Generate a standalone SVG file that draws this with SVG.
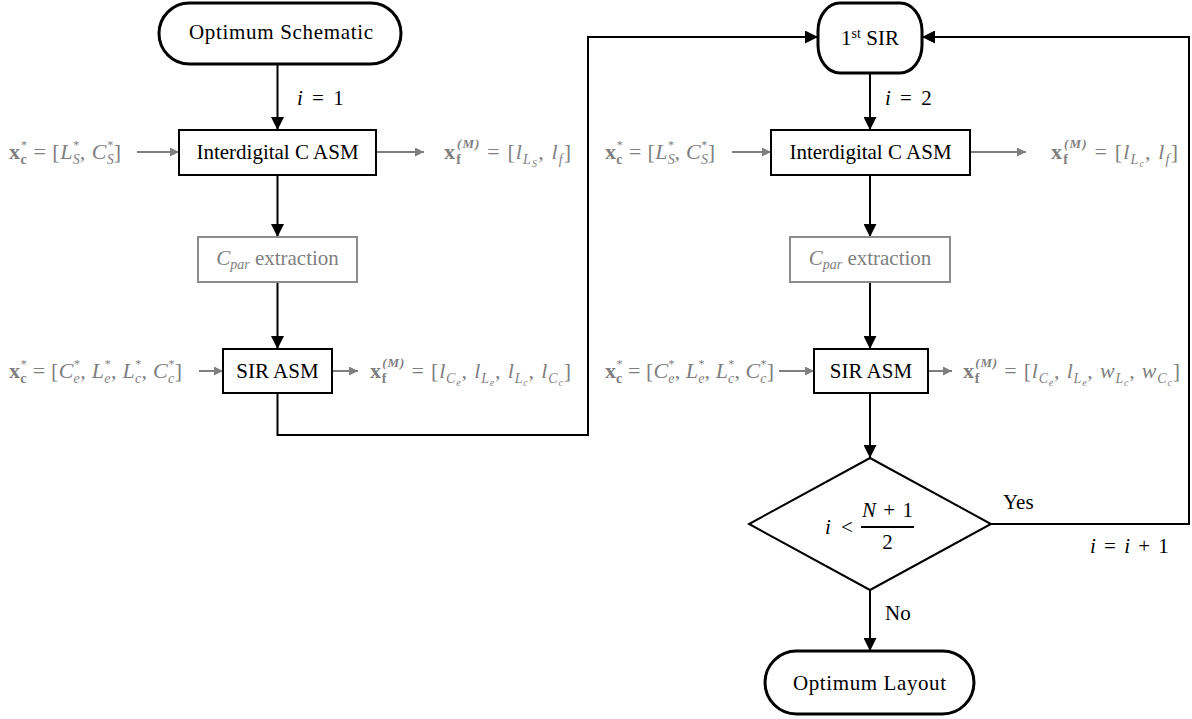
<svg xmlns="http://www.w3.org/2000/svg" width="1192" height="719" viewBox="0 0 1192 719">
  <style>
    text { font-family: "Liberation Serif", "Times New Roman", serif; font-size: 21px; fill: #000; }
    .lbl { text-anchor: middle; }
    .eq { word-spacing: 4px; }
    .g { fill: #7f7f7f; font-size: 22px; }
    .it { font-style: italic; }
    .bd { font-weight: bold; }
    .sm { font-size: 14px; }
    .st { font-size: 12px; }
    .sp { font-size: 13px; }
    .xs { font-size: 10px; }
    .term { fill: #fff; stroke: #000; stroke-width: 3; }
    .box { fill: #fff; stroke: #000; stroke-width: 2; }
    .gbox { fill: #fff; stroke: #8c8c8c; stroke-width: 2; }
    .wire { fill: none; stroke: #000; stroke-width: 2; }
    .gwire { fill: none; stroke: #7f7f7f; stroke-width: 2; }
  </style>
  <defs>
    <marker id="ah" viewBox="0 0 10 10" refX="10" refY="5" markerWidth="13" markerHeight="13" markerUnits="userSpaceOnUse" orient="auto">
      <path d="M0,0 L10,5 L0,10 z" fill="#000"/>
    </marker>
    <marker id="gah" viewBox="0 0 10 10" refX="10" refY="5" markerWidth="9" markerHeight="9" markerUnits="userSpaceOnUse" orient="auto">
      <path d="M0,0 L10,5 L0,10 z" fill="#7f7f7f"/>
    </marker>
  </defs>

  <!-- connectors -->
  <g id="connectors">
    <path class="wire" d="M277.5,64 V130" marker-end="url(#ah)"/>
    <path class="wire" d="M277.5,175 V237" marker-end="url(#ah)"/>
    <path class="wire" d="M277.5,282 V349" marker-end="url(#ah)"/>
    <path class="wire" d="M277.5,393 V435 H588 V37 H818" marker-end="url(#ah)"/>
    <path class="wire" d="M870,73 V130" marker-end="url(#ah)"/>
    <path class="wire" d="M870,175 V237" marker-end="url(#ah)"/>
    <path class="wire" d="M870,282 V349" marker-end="url(#ah)"/>
    <path class="wire" d="M870,393 V458" marker-end="url(#ah)"/>
    <path class="wire" d="M870,590 V651" marker-end="url(#ah)"/>
    <path class="wire" d="M991,524 H1189 V37 H922" marker-end="url(#ah)"/>
    <!-- side inputs / outputs -->
    <path class="gwire" d="M137,152 H179" marker-end="url(#gah)"/>
    <path class="gwire" d="M376,152 H424" marker-end="url(#gah)"/>
    <path class="gwire" d="M199,371 H223" marker-end="url(#gah)"/>
    <path class="gwire" d="M332,371 H358" marker-end="url(#gah)"/>
    <path class="gwire" d="M732,152 H771" marker-end="url(#gah)"/>
    <path class="gwire" d="M970,152 H1026" marker-end="url(#gah)"/>
    <path class="gwire" d="M779,371 H814" marker-end="url(#gah)"/>
    <path class="gwire" d="M928,371 H952" marker-end="url(#gah)"/>
    <!-- edge labels -->
    <text class="eq" x="297" y="105"><tspan class="it">i</tspan> = 1</text>
    <text class="eq" x="885" y="105"><tspan class="it">i</tspan> = 2</text>
    <text x="1003" y="509">Yes</text>
    <text x="885" y="620">No</text>
    <text x="1090" y="553" style="word-spacing:3px"><tspan class="it">i</tspan> = <tspan class="it">i</tspan> + 1</text>
  </g>

  <!-- left column -->
  <g id="start">
    <rect class="term" x="159" y="3" width="242" height="61" rx="30.5"/>
    <text class="lbl" x="281" y="39" textLength="184" lengthAdjust="spacing">Optimum Schematic</text>
  </g>

  <g id="idc-asm-1">
    <rect class="box" x="179" y="130" width="197" height="45"/>
    <text class="lbl" x="277.5" y="159">Interdigital C ASM</text>
  </g>
  <text class="g" x="9" y="159" textLength="112" lengthAdjust="spacing"><tspan class="bd">x</tspan><tspan class="sm bd" dy="5">c</tspan><tspan class="st" dx="-6" dy="-15">*</tspan><tspan dy="10"> = [</tspan><tspan class="it">L</tspan><tspan class="sm it" dy="5">S</tspan><tspan class="st" dx="-7" dy="-15">*</tspan><tspan dy="10">, </tspan><tspan class="it">C</tspan><tspan class="sm it" dy="5">S</tspan><tspan class="st" dx="-7" dy="-15">*</tspan><tspan dy="10">]</tspan></text>
  <text class="g" x="444" y="159" textLength="127" lengthAdjust="spacing"><tspan class="bd">x</tspan><tspan class="sm bd" dy="5">f</tspan><tspan class="sp bd it" dx="-5" dy="-16">(M)</tspan><tspan dy="11"> = [</tspan><tspan class="it">l</tspan><tspan class="sm it" dy="5">L</tspan><tspan class="xs it" dy="3">S</tspan><tspan dy="-8">, </tspan><tspan class="it">l</tspan><tspan class="sm it" dy="5">f</tspan><tspan dy="-5">]</tspan></text>

  <g id="cpar-1">
    <rect class="gbox" x="198" y="237" width="159" height="45"/>
    <text class="lbl g" x="277.5" y="265" style="font-size:21px"><tspan class="it">C</tspan><tspan class="sm it" dy="4">par</tspan><tspan dy="-4"> extraction</tspan></text>
  </g>

  <g id="sir-asm-1">
    <rect class="box" x="223" y="349" width="109" height="44"/>
    <text class="lbl" x="277.5" y="378">SIR ASM</text>
  </g>
  <text class="g" x="9" y="378" textLength="173" lengthAdjust="spacing"><tspan class="bd">x</tspan><tspan class="sm bd" dy="5">c</tspan><tspan class="st" dx="-6" dy="-15">*</tspan><tspan dy="10"> = [</tspan><tspan class="it">C</tspan><tspan class="sm it" dy="5">e</tspan><tspan class="st" dx="-6" dy="-15">*</tspan><tspan dy="10">, </tspan><tspan class="it">L</tspan><tspan class="sm it" dy="5">e</tspan><tspan class="st" dx="-6" dy="-15">*</tspan><tspan dy="10">, </tspan><tspan class="it">L</tspan><tspan class="sm it" dy="5">c</tspan><tspan class="st" dx="-6" dy="-15">*</tspan><tspan dy="10">, </tspan><tspan class="it">C</tspan><tspan class="sm it" dy="5">c</tspan><tspan class="st" dx="-6" dy="-15">*</tspan><tspan dy="10">]</tspan></text>
  <text class="g" x="370" y="378" textLength="201" lengthAdjust="spacing"><tspan class="bd">x</tspan><tspan class="sm bd" dy="5">f</tspan><tspan class="sp bd it" dx="-5" dy="-16">(M)</tspan><tspan dy="11"> = [</tspan><tspan class="it">l</tspan><tspan class="sm it" dy="5">C</tspan><tspan class="xs it" dy="3">e</tspan><tspan dy="-8">, </tspan><tspan class="it">l</tspan><tspan class="sm it" dy="5">L</tspan><tspan class="xs it" dy="3">e</tspan><tspan dy="-8">, </tspan><tspan class="it">l</tspan><tspan class="sm it" dy="5">L</tspan><tspan class="xs it" dy="3">c</tspan><tspan dy="-8">, </tspan><tspan class="it">l</tspan><tspan class="sm it" dy="5">C</tspan><tspan class="xs it" dy="3">c</tspan><tspan dy="-8">]</tspan></text>

  <!-- right column -->
  <g id="first-sir">
    <rect class="term" x="818" y="3" width="104" height="70" rx="22" ry="28"/>
    <text class="lbl" x="870" y="45">1<tspan class="sm" dy="-7">st</tspan><tspan dy="7"> SIR</tspan></text>
  </g>

  <g id="idc-asm-2">
    <rect class="box" x="771" y="130" width="199" height="45"/>
    <text class="lbl" x="870.5" y="159">Interdigital C ASM</text>
  </g>
  <text class="g" x="605" y="159" textLength="110" lengthAdjust="spacing"><tspan class="bd">x</tspan><tspan class="sm bd" dy="5">c</tspan><tspan class="st" dx="-6" dy="-15">*</tspan><tspan dy="10"> = [</tspan><tspan class="it">L</tspan><tspan class="sm it" dy="5">S</tspan><tspan class="st" dx="-7" dy="-15">*</tspan><tspan dy="10">, </tspan><tspan class="it">C</tspan><tspan class="sm it" dy="5">S</tspan><tspan class="st" dx="-7" dy="-15">*</tspan><tspan dy="10">]</tspan></text>
  <text class="g" x="1051" y="159" textLength="127" lengthAdjust="spacing"><tspan class="bd">x</tspan><tspan class="sm bd" dy="5">f</tspan><tspan class="sp bd it" dx="-5" dy="-16">(M)</tspan><tspan dy="11"> = [</tspan><tspan class="it">l</tspan><tspan class="sm it" dy="5">L</tspan><tspan class="xs it" dy="3">c</tspan><tspan dy="-8">, </tspan><tspan class="it">l</tspan><tspan class="sm it" dy="5">f</tspan><tspan dy="-5">]</tspan></text>

  <g id="cpar-2">
    <rect class="gbox" x="790" y="237" width="160" height="45"/>
    <text class="lbl g" x="870" y="265" style="font-size:21px"><tspan class="it">C</tspan><tspan class="sm it" dy="4">par</tspan><tspan dy="-4"> extraction</tspan></text>
  </g>

  <g id="sir-asm-2">
    <rect class="box" x="814" y="349" width="114" height="44"/>
    <text class="lbl" x="871" y="378">SIR ASM</text>
  </g>
  <text class="g" x="605" y="378" textLength="169" lengthAdjust="spacing"><tspan class="bd">x</tspan><tspan class="sm bd" dy="5">c</tspan><tspan class="st" dx="-6" dy="-15">*</tspan><tspan dy="10"> = [</tspan><tspan class="it">C</tspan><tspan class="sm it" dy="5">e</tspan><tspan class="st" dx="-6" dy="-15">*</tspan><tspan dy="10">, </tspan><tspan class="it">L</tspan><tspan class="sm it" dy="5">e</tspan><tspan class="st" dx="-6" dy="-15">*</tspan><tspan dy="10">, </tspan><tspan class="it">L</tspan><tspan class="sm it" dy="5">c</tspan><tspan class="st" dx="-6" dy="-15">*</tspan><tspan dy="10">, </tspan><tspan class="it">C</tspan><tspan class="sm it" dy="5">c</tspan><tspan class="st" dx="-6" dy="-15">*</tspan><tspan dy="10">]</tspan></text>
  <text class="g" x="963" y="378" textLength="217" lengthAdjust="spacing"><tspan class="bd">x</tspan><tspan class="sm bd" dy="5">f</tspan><tspan class="sp bd it" dx="-5" dy="-16">(M)</tspan><tspan dy="11"> = [</tspan><tspan class="it">l</tspan><tspan class="sm it" dy="5">C</tspan><tspan class="xs it" dy="3">e</tspan><tspan dy="-8">, </tspan><tspan class="it">l</tspan><tspan class="sm it" dy="5">L</tspan><tspan class="xs it" dy="3">e</tspan><tspan dy="-8">, </tspan><tspan class="it">w</tspan><tspan class="sm it" dy="5">L</tspan><tspan class="xs it" dy="3">c</tspan><tspan dy="-8">, </tspan><tspan class="it">w</tspan><tspan class="sm it" dy="5">C</tspan><tspan class="xs it" dy="3">c</tspan><tspan dy="-8">]</tspan></text>

  <g id="decision">
    <path class="box" d="M870,458 L991,524 L870,590 L749,524 Z"/>
    <text class="it" x="825" y="534">i</text>
    <text x="841" y="534">&lt;</text>
    <text class="lbl" x="887.5" y="517" style="word-spacing:2px"><tspan class="it">N</tspan> + 1</text>
    <line x1="861" y1="527" x2="914" y2="527" stroke="#000" stroke-width="2"/>
    <text class="lbl" x="887.5" y="549">2</text>
  </g>

  <g id="end">
    <rect class="term" x="765" y="651" width="209" height="63" rx="31.5"/>
    <text class="lbl" x="869.5" y="690" textLength="153" lengthAdjust="spacing">Optimum Layout</text>
  </g>
</svg>
